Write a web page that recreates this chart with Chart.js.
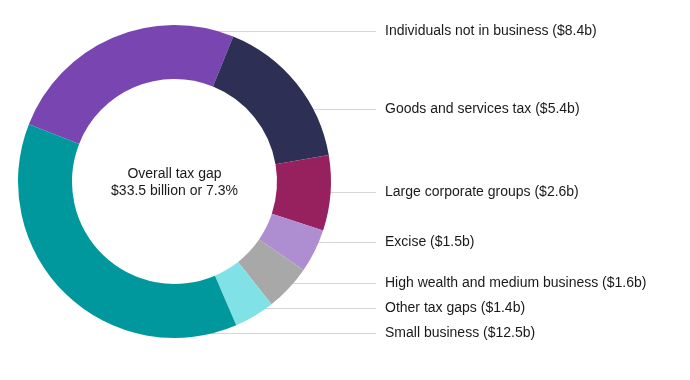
<!DOCTYPE html>
<html>
<head>
<meta charset="utf-8">
<script src="https://cdn.jsdelivr.net/npm/chart.js@4"></script>
<style>
  body { margin: 0; background: #fff; }
  #wrap { width: 690px; height: 380px; }
</style>
</head>
<body>
<div id="wrap"><canvas id="chart" width="690" height="380"></canvas></div>
<script>
var categories = ["Individuals not in business", "Goods and services tax", "Large corporate groups",
                  "Excise", "High wealth and medium business", "Other tax gaps", "Small business"];
var values = [8.4, 5.4, 2.6, 1.5, 1.6, 1.4, 12.5];
var colours = ["#7945b0", "#2d3054", "#97205e", "#ae8ed0", "#a8a8a8", "#80e1e7", "#00989c"];
var centreText = ["Overall tax gap", "$33.5 billion or 7.3%"];

// where each callout sits (y in px), same order as categories
var labelY = [31, 109, 192, 242, 283, 308, 333];

var callouts = {
    id: 'callouts',
    beforeDatasetsDraw: function(chart) {
        var ctx = chart.ctx;
        var arc = chart.getDatasetMeta(0).data[0];
        var cx = arc.x, cy = arc.y, ri = arc.innerRadius;
        ctx.save();
        ctx.strokeStyle = '#d6d6d6';
        ctx.lineWidth = 1;
        for (var i = 0; i < labelY.length; i++) {
            var dy = labelY[i] - cy;
            var x0 = Math.abs(dy) < ri ? cx + Math.sqrt(ri * ri - dy * dy) + 2 : cx;
            ctx.beginPath();
            ctx.moveTo(x0, labelY[i] + 0.5);
            ctx.lineTo(376, labelY[i] + 0.5);
            ctx.stroke();
        }
        ctx.restore();
    },
    afterDraw: function(chart) {
        var ctx = chart.ctx;
        var arc = chart.getDatasetMeta(0).data[0];
        ctx.save();
        ctx.fillStyle = '#1a1a1a';
        ctx.font = '14px "Liberation Sans", Arial, sans-serif';
        ctx.textBaseline = 'middle';
        ctx.textAlign = 'left';
        for (var i = 0; i < categories.length; i++) {
            ctx.fillText(categories[i] + ' ($' + values[i].toFixed(1) + 'b)', 385, labelY[i]);
        }
        ctx.textAlign = 'center';
        ctx.fillText(centreText[0], arc.x, arc.y - 7);
        ctx.fillText(centreText[1], arc.x, arc.y + 10);
        ctx.restore();
    }
};

var myChart = new Chart(document.getElementById('chart'), {
    type: 'doughnut',
    data: {
        labels: categories,
        datasets: [{
            data: values,
            backgroundColor: colours,
            borderWidth: 0
        }]
    },
    options: {
        responsive: false,
        animation: false,
        cutout: '65.5%',
        rotation: -68.5,
        layout: { padding: { left: 18, top: 25, right: 359, bottom: 42 } },
        plugins: {
            legend: { display: false },
            tooltip: { enabled: false }
        }
    },
    plugins: [callouts]
});
</script>
</body>
</html>
